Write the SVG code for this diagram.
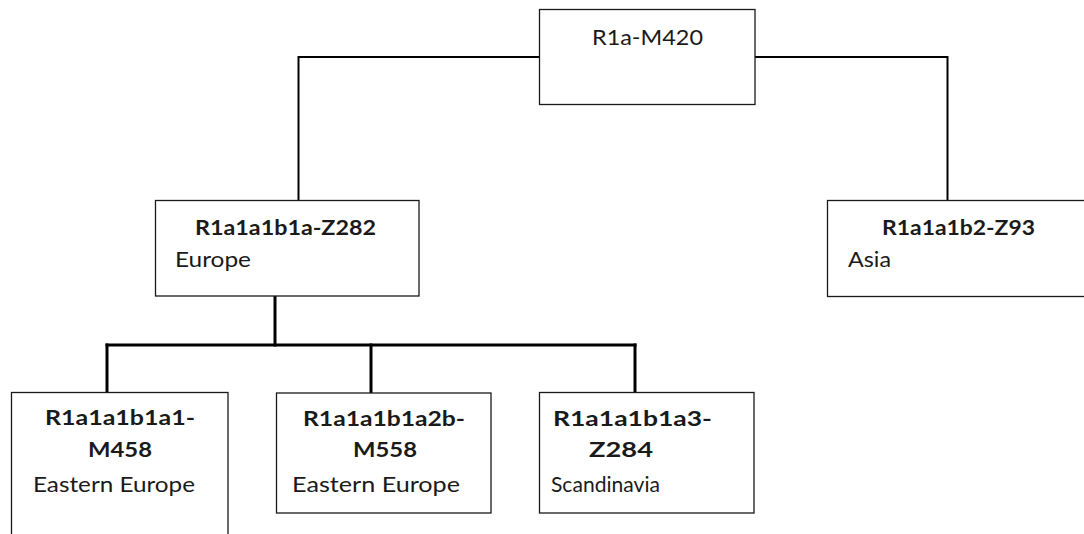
<svg xmlns="http://www.w3.org/2000/svg" width="1084" height="534" viewBox="0 0 1084 534">
  <style>
    .box { fill: #ffffff; stroke: #1a1a1a; stroke-width: 1.3; }
    .wire { fill: none; stroke: #000000; stroke-linecap: square; }
    .thin { stroke-width: 2; }
    .thick { stroke-width: 3; }
    text { font-family: Lato, "Open Sans", "Liberation Sans", sans-serif; font-size: 22px; fill: #1a1a1a; }
    .b { font-weight: bold; font-size: 21px; }
  </style>
  <rect width="1084" height="534" fill="#ffffff"/>

  <!-- connectors -->
  <g id="connectors">
    <path class="wire thin" d="M539,57 H298.5 V200"/>
    <path class="wire thin" d="M755,57 H947.5 V200"/>
    <path class="wire thick" d="M275,296.5 V345"/>
    <path class="wire thick" d="M107,345 H635"/>
    <path class="wire thick" d="M107,345 V392"/>
    <path class="wire thick" d="M371,345 V392.5"/>
    <path class="wire thick" d="M635,345 V392"/>
  </g>

  <g id="root">
    <rect class="box" x="539.5" y="9.5" width="215.5" height="95"/>
    <text x="592" y="45" textLength="111" lengthAdjust="spacingAndGlyphs">R1a-M420</text>
  </g>

  <g id="z282">
    <rect class="box" x="155.5" y="200.5" width="263.5" height="95.5"/>
    <text class="b" x="195" y="235" textLength="181" lengthAdjust="spacingAndGlyphs">R1a1a1b1a-Z282</text>
    <text x="175" y="267" textLength="76" lengthAdjust="spacingAndGlyphs">Europe</text>
  </g>

  <g id="z93">
    <rect class="box" x="827.5" y="200.5" width="262" height="96"/>
    <text class="b" x="882" y="235" textLength="153" lengthAdjust="spacingAndGlyphs">R1a1a1b2-Z93</text>
    <text x="848" y="267" textLength="43" lengthAdjust="spacingAndGlyphs">Asia</text>
  </g>

  <g id="m458">
    <rect class="box" x="11.5" y="392.5" width="216.5" height="150"/>
    <text class="b" x="45" y="425" textLength="150" lengthAdjust="spacingAndGlyphs">R1a1a1b1a1-</text>
    <text class="b" x="88" y="457" textLength="64" lengthAdjust="spacingAndGlyphs">M458</text>
    <text x="33" y="492" textLength="162" lengthAdjust="spacingAndGlyphs">Eastern Europe</text>
  </g>

  <g id="m558">
    <rect class="box" x="276.5" y="393" width="214.5" height="120"/>
    <text class="b" x="303" y="426" textLength="162" lengthAdjust="spacingAndGlyphs">R1a1a1b1a2b-</text>
    <text class="b" x="353" y="457" textLength="64" lengthAdjust="spacingAndGlyphs">M558</text>
    <text x="292" y="492" textLength="168" lengthAdjust="spacingAndGlyphs">Eastern Europe</text>
  </g>

  <g id="z284">
    <rect class="box" x="539.5" y="392.5" width="214.5" height="120.5"/>
    <text class="b" x="553" y="426" textLength="159" lengthAdjust="spacingAndGlyphs">R1a1a1b1a3-</text>
    <text class="b" x="589" y="457" textLength="64" lengthAdjust="spacingAndGlyphs">Z284</text>
    <text x="551" y="492" textLength="109" lengthAdjust="spacingAndGlyphs">Scandinavia</text>
  </g>
</svg>
